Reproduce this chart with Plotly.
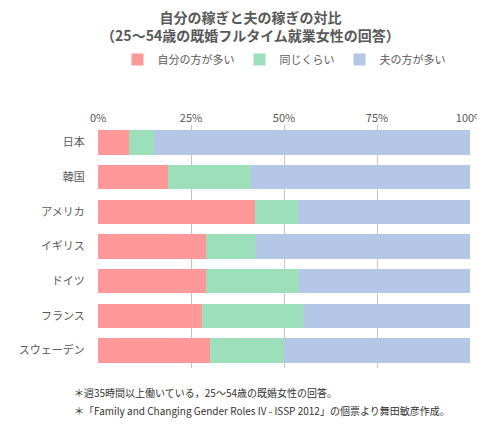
import plotly.graph_objects as go

countries = ["日本", "韓国", "アメリカ", "イギリス", "ドイツ", "フランス", "スウェーデン"]
self_more = [8.3, 18.8, 42.2, 29.0, 29.0, 28.0, 30.0]
equal = [6.7, 22.2, 11.6, 13.5, 25.0, 27.4, 20.0]
husband_more = [85.0, 59.0, 46.2, 57.5, 46.0, 44.6, 50.0]
names = ["自分の方が多い", "同じくらい", "夫の方が多い"]
colors = ["#FF9999", "#9EDFBB", "#B4C7E7"]

fig = go.Figure()
for n, v, c in zip(names, [self_more, equal, husband_more], colors):
    fig.add_trace(go.Bar(y=countries, x=v, name=n, orientation="h",
                         marker=dict(color=c, line=dict(width=0))))

fig.update_layout(
    barmode="stack", bargap=0.3, width=485, height=426,
    paper_bgcolor="white", plot_bgcolor="white",
    font=dict(family="Noto Sans CJK JP", color="#595959", size=11),
    title=dict(text="<b>自分の稼ぎと夫の稼ぎの対比</b><br><b>（25～54歳の既婚フルタイム就業女性の回答）</b>",
               x=0.5, y=0.965, xanchor="center", font=dict(size=14, color="#595959")),
    legend=dict(orientation="h", x=0.5, xanchor="center", y=1.21, yanchor="bottom",
                font=dict(size=11), traceorder="normal", itemwidth=30),
    margin=dict(l=90, r=23, t=117, b=66, autoexpand=False),
    xaxis=dict(side="top", range=[0, 100], tickvals=[0, 25, 50, 75, 100],
               ticktext=["0%", "25%", "50%", "75%", "100%"], showgrid=True,
               gridcolor="rgba(140,150,170,0.55)", layer="above traces", zeroline=False,
               automargin=False),
    yaxis=dict(autorange="reversed", ticks="outside", ticklen=10, tickcolor="rgba(0,0,0,0)",
               automargin=False),
)
fig.add_annotation(text="＊週35時間以上働いている，25～54歳の既婚女性の回答。",
                   xref="paper", yref="paper", x=-0.07, y=-0.06, xanchor="left", yanchor="top",
                   showarrow=False, font=dict(size=10, color="#333333"))
fig.add_annotation(text="＊「Family and Changing Gender Roles IV - ISSP 2012」の個票より舞田敏彦作成。",
                   xref="paper", yref="paper", x=-0.07, y=-0.135, xanchor="left", yanchor="top",
                   showarrow=False, font=dict(size=10, color="#333333"))
fig.write_html("out.html")
